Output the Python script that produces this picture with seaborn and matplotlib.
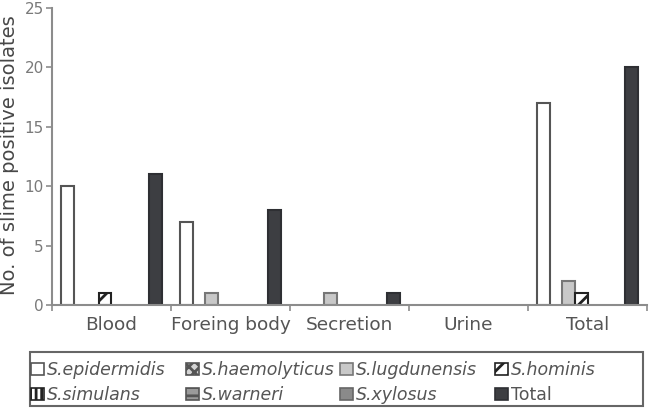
import numpy as np
import pandas as pd
import matplotlib
matplotlib.use("Agg")
import matplotlib.pyplot as plt
from matplotlib.patches import Patch, Rectangle
import seaborn as sns

# --- data ---
sites = ["Blood", "Foreing body", "Secretion", "Urine", "Total"]
species = ["S.epidermidis", "S.haemolyticus", "S.lugdunensis", "S.hominis",
           "S.simulans", "S.warneri", "S.xylosus", "Total"]
epidermidis = [10, 7, 0, 0, 17]
haemolyticus = [0, 0, 0, 0, 0]
lugdunensis = [0, 1, 1, 0, 2]
hominis = [1, 0, 0, 0, 1]
simulans = [0, 0, 0, 0, 0]
warneri = [0, 0, 0, 0, 0]
xylosus = [0, 0, 0, 0, 0]
total = [11, 8, 1, 0, 20]
y_ticks = [0, 5, 10, 15, 20, 25]

series = [epidermidis, haemolyticus, lugdunensis, hominis,
          simulans, warneri, xylosus, total]

rows = []
for sp, vals in zip(species, series):
    for site, v in zip(sites, vals):
        rows.append({"site": site, "species": sp, "count": v})
df = pd.DataFrame(rows)

# face colour, hatch per species (grayscale print style)
faces = {"S.epidermidis": "#ffffff", "S.haemolyticus": "#d4d4d4",
         "S.lugdunensis": "#c8c8c8", "S.hominis": "#ffffff",
         "S.simulans": "#ffffff", "S.warneri": "#9a9a9a",
         "S.xylosus": "#8a8a8a", "Total": "#3d3e42"}
hatches = {"S.epidermidis": None, "S.haemolyticus": "xxx",
           "S.lugdunensis": None, "S.hominis": "//",
           "S.simulans": "|||", "S.warneri": "--",
           "S.xylosus": None, "Total": None}
edges = {"S.epidermidis": "#555555", "S.haemolyticus": "#555555",
         "S.lugdunensis": "#777777", "S.hominis": "#222222",
         "S.simulans": "#222222", "S.warneri": "#555555",
         "S.xylosus": "#666666", "Total": "#2e2f33"}

sns.set_theme(style="white")
plt.rcParams["font.family"] = ["DejaVu Sans"]
plt.rcParams["hatch.linewidth"] = 2.0
txt = "#555555"
spine = "#8c8c8c"

W, H = 650, 408
fig = plt.figure(figsize=(W / 100, H / 100), dpi=100)
ax = fig.add_axes([52 / W, 1 - 305 / H, 595 / W, 297 / H])

sns.barplot(ax=ax, data=df, x="site", y="count", hue="species",
            hue_order=species, order=sites, palette=faces, saturation=1,
            width=0.85, gap=0, dodge=True, edgecolor="#555555",
            linewidth=1.5, legend=False, errorbar=None)

for sp, cont in zip(species, ax.containers):
    for bar in cont:
        bar.set_edgecolor(edges[sp])
        if hatches[sp]:
            bar.set_hatch(hatches[sp])
        if bar.get_height() == 0:
            bar.set_visible(False)

ax.set_xlim(-0.5, len(sites) - 0.5)
ax.set_ylim(0, 25)
ax.set_yticks(y_ticks)
ax.set_xlabel("")
ax.set_ylabel("No. of slime positive isolates", fontsize=14, color="#474747",
              fontweight="medium")
ax.yaxis.set_label_coords(-0.0555, 0.505)
ax.set_xticks(np.arange(len(sites)))
ax.set_xticklabels(sites)
ax.set_xticks(np.arange(len(sites) + 1) - 0.5, minor=True)
ax.tick_params(axis="x", which="major", length=0, labelsize=13.3,
               labelcolor=txt, pad=8)
ax.tick_params(axis="x", which="minor", length=4, width=1.2, color=spine,
               direction="out", bottom=True)
ax.tick_params(axis="y", length=4, width=1.2, color=spine, direction="out",
               left=True, labelsize=11, labelcolor="#7a7a7a", pad=2)
for s in ["top", "right"]:
    ax.spines[s].set_visible(False)
for s in ["left", "bottom"]:
    ax.spines[s].set_color(spine)
    ax.spines[s].set_linewidth(1.5)

# legend below the plot: one small legend per column, inside a drawn frame
handles = {sp: Patch(facecolor=faces[sp], edgecolor=edges[sp],
                     hatch=hatches[sp], linewidth=1.2, label=sp)
           for sp in species}
columns = [["S.epidermidis", "S.simulans"], ["S.haemolyticus", "S.warneri"],
           ["S.lugdunensis", "S.xylosus"], ["S.hominis", "Total"]]
col_x = [31, 186, 340, 495]
for cx, names in zip(col_x, columns):
    leg = fig.legend(handles=[handles[k] for k in names], labels=names,
                     loc="upper left", bbox_to_anchor=(cx / W, 1 - 361 / H),
                     frameon=False, fontsize=12.5,
                     handlelength=0.75, handleheight=0.75, handletextpad=0.15,
                     borderpad=0, labelspacing=0.4, borderaxespad=0)
    for t in leg.get_texts():
        t.set_color(txt)
        if t.get_text() != "Total":
            t.set_fontstyle("italic")

fig.patches.append(Rectangle((30 / W, 1 - 406 / H), 613 / W, 54 / H,
                             transform=fig.transFigure, fill=False,
                             edgecolor="#666666", linewidth=1.5))

fig.savefig("out.png", dpi=100)
